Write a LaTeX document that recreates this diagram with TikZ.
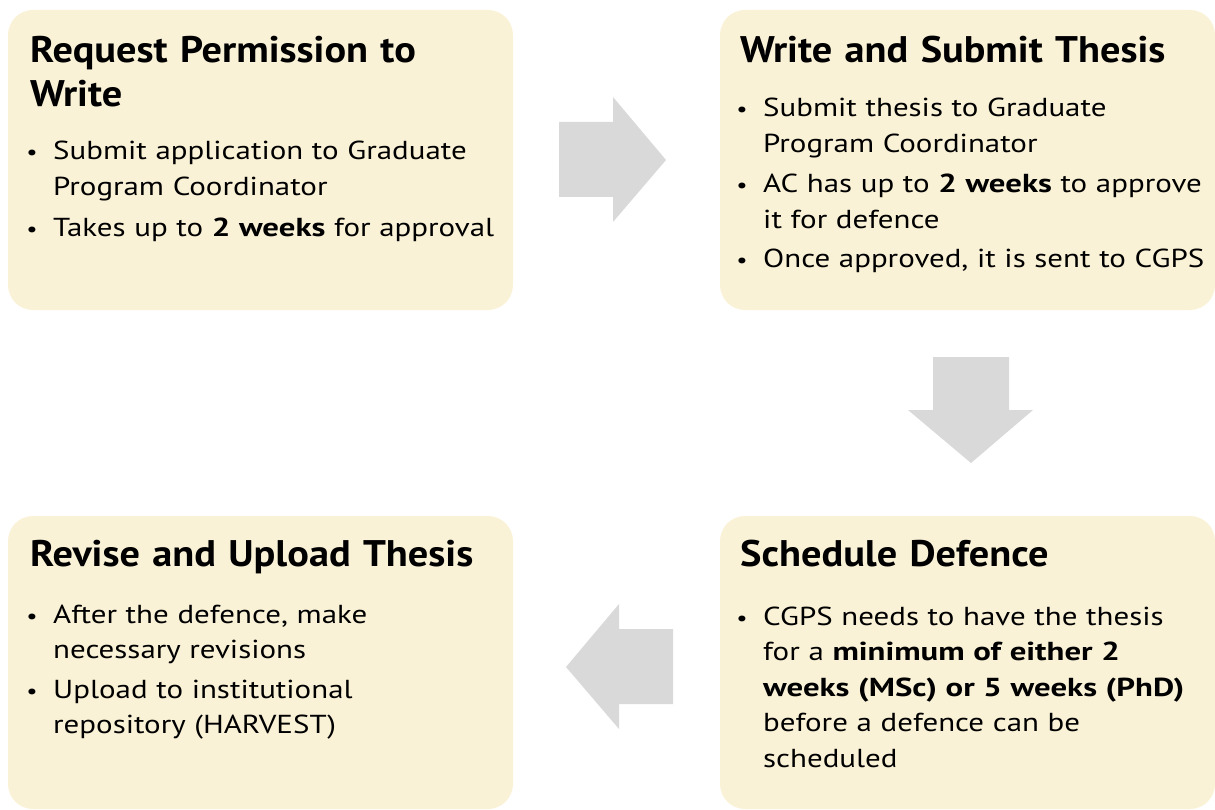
\documentclass[tikz,border=0pt]{standalone}
\usepackage{fontspec}
\setmainfont{PT Sans}[FakeStretch=1.19, BoldFeatures={FakeStretch=1.09}]
\newfontfamily\bdyboldfam{PT Sans}[BoldFeatures={FakeStretch=1.26}]
\newcommand{\bd}[1]{{\bdyboldfam\bfseries #1}}
\definecolor{boxfill}{HTML}{FAF2D7}
\definecolor{arrowgray}{HTML}{D9D9D9}
\newcommand{\ttlfont}{\fontsize{37}{44}\selectfont\bfseries}
\newcommand{\bdyfont}{\fontsize{26}{35.5}\selectfont}
\tikzset{
  stepbox/.style={fill=boxfill, draw=none, rounded corners=25pt},
  blockarrow/.style={fill=arrowgray, draw=none},
  ttl/.style={anchor=base west, inner sep=0pt, font=\ttlfont, align=left, text width=480pt},
  itm/.style={anchor=base west, inner sep=0pt, font=\bdyfont, align=left, text width=450pt},
  dot/.style={anchor=base, inner sep=0pt, font=\fontsize{21}{21}\selectfont}
}
\begin{document}
\begin{tikzpicture}[x=1pt,y=-1pt]
\useasboundingbox (0,0) rectangle (1215,810);
% boxes
\path[stepbox] (8,10) rectangle (513,310);
\path[stepbox] (720,10) rectangle (1215,310);
\path[stepbox] (8,516) rectangle (513,809);
\path[stepbox] (720,516) rectangle (1215,809);
% block arrows
\path[blockarrow] (559,122) -- (613,122) -- (613,97) -- (666,160) -- (613,222) -- (613,197) -- (559,197) -- cycle;
\path[blockarrow] (933,357) -- (1009,357) -- (1009,410) -- (1033,410) -- (971,463) -- (908,410) -- (933,410) -- cycle;
\path[blockarrow] (673,629) -- (619,629) -- (619,604) -- (566,667) -- (619,729) -- (619,704) -- (673,704) -- cycle;
% box 1
\node[ttl] (t1) at (30,63) {Request Permission to\\Write};
\node[dot] (d11) at (32,160) {•};
\node[itm] (i11) at (53,160) {Submit application to Graduate\\Program Coordinator};
\node[dot] (d12) at (32,237) {•};
\node[itm] (i12) at (53,237) {Takes up to \bd{2 weeks} for approval};
% box 2
\node[ttl] (t2) at (740,63) {Write and Submit Thesis};
\node[dot] (d21) at (742,117) {•};
\node[itm] (i21) at (763,117) {Submit thesis to Graduate\\Program Coordinator};
\node[dot] (d22) at (742,193) {•};
\node[itm] (i22) at (763,193) {AC has up to \bd{2 weeks} to approve\\it for defence};
\node[dot] (d23) at (742,268) {•};
\node[itm] (i23) at (763,268) {Once approved, it is sent to CGPS};
% box 3
\node[ttl] (t3) at (30,566) {Revise and Upload Thesis};
\node[dot] (d31) at (32,623) {•};
\node[itm] (i31) at (53,623) {After the defence, make\\necessary revisions};
\node[dot] (d32) at (32,698) {•};
\node[itm] (i32) at (53,698) {Upload to institutional\\repository (HARVEST)};
% box 4
\node[ttl] (t4) at (740,566) {Schedule Defence};
\node[dot] (d41) at (742,625) {•};
\node[itm] (i41) at (763,625) {CGPS needs to have the thesis\\for a \bd{minimum of either 2}\\\bd{weeks (MSc) or 5 weeks (PhD)}\\before a defence can be\\scheduled};
\end{tikzpicture}
\end{document}
